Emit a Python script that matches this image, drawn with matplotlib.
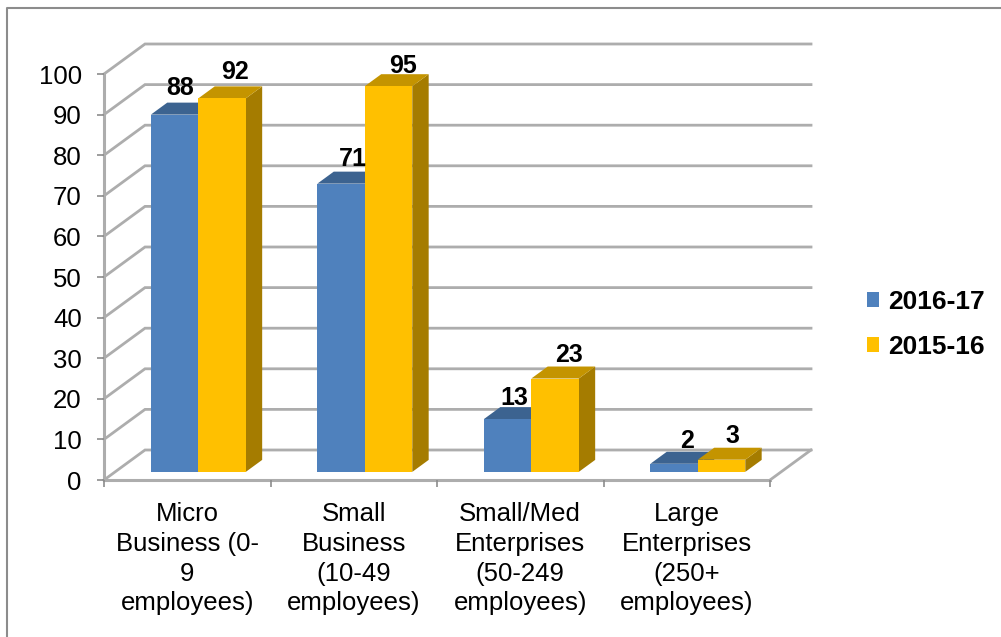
import matplotlib
matplotlib.use("Agg")
import matplotlib.pyplot as plt
from matplotlib.lines import Line2D
from matplotlib.patches import Patch, Polygon

plt.rcParams['font.family'] = ['Liberation Sans', 'DejaVu Sans']

# data
categories = ["Micro\nBusiness (0-\n9\nemployees)",
              "Small\nBusiness\n(10-49\nemployees)",
              "Small/Med\nEnterprises\n(50-249\nemployees)",
              "Large\nEnterprises\n(250+\nemployees)"]
series_names = ["2016-17", "2015-16"]
values_2016 = [88, 71, 13, 2]
values_2015 = [92, 95, 23, 3]
y_ticks = list(range(0, 101, 10))

BLUE = ('#4f81bd', '#3c6390', '#3c6390')
GOLD = ('#ffc000', '#c49400', '#a57c00')
GRID = '#adadad'

W, H = 1001, 637
fig = plt.figure(figsize=(W / 100, H / 100), dpi=100)

# frame around the whole picture
fig.add_artist(Line2D([6.5 / W, 6.5 / W, 1], [0, 1 - 8 / H, 1 - 8 / H], color='#8c8c8c', lw=1.5))

# axes = front plane of the 3d box
left, right, top, bottom = 104, 770, 74, 480
ax = fig.add_axes([left / W, 1 - bottom / H, (right - left) / W, (bottom - top) / H])
ax.set_xlim(0, 4)
ax.set_ylim(0, 100)
ax.patch.set_visible(False)
for s in ax.spines.values():
    s.set_visible(False)

# depth of the box in data units
dx = 41 / ((right - left) / 4)
dy = 30 / ((bottom - top) / 100)

# walls and floor
for v in y_ticks:
    ax.plot([0, dx, 4 + dx], [v, v + dy, v + dy], color=GRID, lw=2, clip_on=False, zorder=1,
            solid_joinstyle='miter')
ax.plot([4, 4 + dx], [0, dy], color=GRID, lw=2, clip_on=False, zorder=1)
ax.plot([0, 0], [0, 100], color=GRID, lw=2.2, clip_on=False, zorder=1)
ax.plot([0, 4], [0, 0], color=GRID, lw=2.2, clip_on=False, zorder=1)


def bar3d(x0, x1, v, cols):
    # front face sits a bit inside the floor, back face further in
    f, b = 0.27, 0.67
    xa, xb = x0 + f * dx, x1 + f * dx
    y0, yt = f * dy, f * dy + v
    sx, sy = (b - f) * dx, (b - f) * dy
    ax.add_patch(Polygon([(xb, y0), (xb + sx, y0 + sy), (xb + sx, yt + sy), (xb, yt)],
                         fc=cols[2], ec='none', clip_on=False, zorder=3))
    ax.add_patch(Polygon([(xa, yt), (xa + sx, yt + sy), (xb + sx, yt + sy), (xb, yt)],
                         fc=cols[1], ec='none', clip_on=False, zorder=3))
    ax.add_patch(Polygon([(xa, y0), (xb, y0), (xb, yt), (xa, yt)],
                         fc=cols[0], ec='none', clip_on=False, zorder=3))
    return (xa + xb) / 2 + sx, yt + sy


bar_w = 0.285
# small shifts of the data labels, in pixels
nudge_2016 = [(-14, 1), (-7, -1), (-12, -4), (-6, -2)]
nudge_2015 = [(-6, 1), (-5, -5), (-5, -2), (-8, -1)]
for i in range(len(categories)):
    c = i + 0.5
    for x0, vals, cols, nudge in [(c - bar_w, values_2016, BLUE, nudge_2016),
                                  (c, values_2015, GOLD, nudge_2015)]:
        tx, ty = bar3d(x0, x0 + bar_w, vals[i], cols)
        ax.annotate(str(vals[i]), (tx, ty), xytext=(2 + nudge[i][0] * .72, 9.5 + nudge[i][1] * .72),
                    textcoords='offset points', ha='center', va='center',
                    fontsize=18, fontweight='bold', color='black', zorder=5)

ax.set_yticks(y_ticks)
ax.set_xticks(range(5))
ax.set_xticklabels([])
ax.set_xticks([i + 0.5 for i in range(4)], minor=True)
ax.set_xticklabels(categories, minor=True, fontsize=18.5, linespacing=1.3, color='black')
ax.tick_params(axis='x', which='major', length=5, width=1.2, color='#8c8c8c')
ax.tick_params(axis='x', which='minor', length=0, pad=16)
ax.tick_params(axis='y', length=5, width=1.2, color='#8c8c8c', labelsize=18.5, pad=11)

handles = [Patch(fc=BLUE[0], ec='none'), Patch(fc=GOLD[0], ec='none')]
fig.legend(handles, series_names, loc='upper left', bbox_to_anchor=(843 / W, 1 - 266 / H),
           frameon=False, prop={'size': 19, 'weight': 'bold'},
           handlelength=0.45, handleheight=0.5, handletextpad=0.35, labelspacing=0.8)

fig.savefig('out.png', dpi=100)
